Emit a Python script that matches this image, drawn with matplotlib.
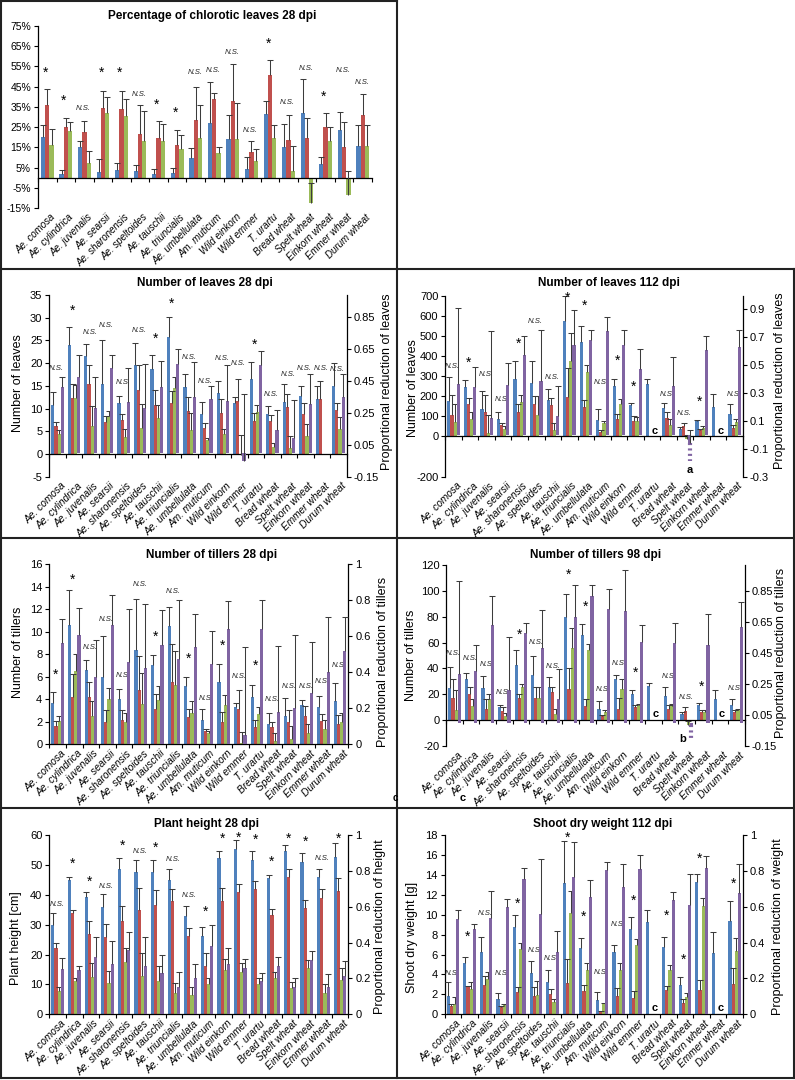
import numpy as np
import matplotlib
matplotlib.use('Agg')
import matplotlib.pyplot as plt
from matplotlib.lines import Line2D
from matplotlib.transforms import blended_transform_factory

plt.rcParams['font.family'] = ['Liberation Sans', 'DejaVu Sans']
nan = np.nan

categories = ['Ae. comosa', 'Ae. cylindrica', 'Ae. juvenalis', 'Ae. searsii', 'Ae. sharonensis',
              'Ae. speltoides', 'Ae. tauschii', 'Ae. triuncialis', 'Ae. umbellulata', 'Am. muticum',
              'Wild einkorn', 'Wild emmer', 'T. urartu', 'Bread wheat', 'Spelt wheat',
              'Einkorn wheat', 'Emmer wheat', 'Durum wheat']

# ---------------- Panel 1: Percentage of chlorotic leaves 28 dpi ----------------
chl_blue = [20, 2, 15, 3, 4, 3.5, 2, 2.5, 9.5, 27, 19, 4.5, 31.5, 15, 32, 7, 23.5, 15.5]
chl_blue_up = [26, 4, 18, 9, 7.5, 6.5, 4.5, 5, 14.5, 47.5, 31, 10, 38, 26.5, 49, 10, 32.5, 26]
chl_red = [36, 25, 22.5, 34.5, 34, 21.5, 19.5, 16, 28.5, 39, 38, 12.5, 51, 18.5, 19.5, 25, 15, 31]
chl_red_up = [44, 29.5, 28, 43, 43, 36, 28, 23.5, 45, 42, 56, 18, 58, 31, 29.5, 32, 27.5, 41.5]
chl_green = [16, 23, 7.5, 32, 30.5, 18, 18, 14, 19.5, 12, 19, 8, 19.5, 3.5, -12.5, 18, -8.5, 15.5]
chl_green_up = [24, 27.5, 13, 40, 39, 33, 26.5, 21, 36, 15, 37, 14, 26, 15.5, -2.7, 25, 3.5, 26]
chl_sig = ['*', '*', 'N.S.', '*', '*', 'N.S.', '*', '*', 'N.S.', 'N.S.', 'N.S.', 'N.S.', '*', 'N.S.',
           'N.S.', '*', 'N.S.', 'N.S.']
chl_sig_y = [52, 38, 34, 52, 52, 41, 36, 32, 52, 53, 62, 23.5, 66, 37, 54, 40, 53, 47]
chl_yticks = [-15, -5, 5, 15, 25, 35, 45, 55, 65, 75]

# ---------------- Panel 2: Number of leaves 28 dpi ----------------
l28_blue = [10.7, 24.0, 21.5, 15.3, 11.2, 19.6, 18.7, 25.7, 14.7, 8.8, 13.5, 11.2, 16.5, 8.7, 11.5, 12.8, 12.0, 15.0]
l28_blue_up = [13.6, 28.0, 24.3, 25.0, 12.7, 24.5, 21.9, 30.1, 17.5, 11.4, 16.0, 12.5, 20.2, 10.5, 15.3, 14.9, 14.9, 20.1]
l28_red = [6.2, 12.3, 15.3, 7.0, 7.5, 14.0, 10.8, 11.2, 9.5, 5.8, 9.0, 11.7, 7.3, 7.3, 10.4, 8.8, 12.2, 9.7]
l28_red_up = [7.0, 15.5, 19.7, 8.3, 8.8, 19.7, 14.0, 13.8, 12.5, 6.9, 12.0, 16.4, 9.0, 8.6, 13.1, 11.2, 16.1, 11.3]
l28_green = [4.5, 12.3, 6.2, 8.3, 3.8, 5.8, 8.0, 14.6, 5.3, 3.0, 4.5, -0.3, 9.3, 1.5, 1.3, 4.0, nan, 5.5]
l28_green_up = [5.2, 15.2, 10.5, 9.5, 5.5, 11.0, 10.8, 17.0, 9.0, 3.5, 5.5, 4.2, 10.7, 2.5, 4.0, 6.7, nan, 8.2]
l28_prop = [0.412, 0.478, 0.284, 0.535, 0.321, 0.278, 0.412, 0.557, 0.352, 0.335, 0.326, -0.050, 0.549, 0.144, 0.093, 0.304, nan, 0.349]
l28_prop_up = [0.478, 0.614, 0.478, 0.614, 0.535, 0.557, 0.577, 0.654, 0.569, 0.421, 0.549, 0.369, 0.637, 0.269, 0.329, 0.492, nan, 0.492]
l28_sig = ['N.S.', '*', 'N.S.', 'N.S.', 'N.S.', 'N.S.', '*', '*', 'N.S.', 'N.S.', 'N.S.', 'N.S.', '*', 'N.S.',
           'N.S.', 'N.S.', 'N.S.', 'N.S.']
l28_sig_y = [18.9, 31.6, 26.8, 28.3, 15.7, 27.1, 25.3, 33, 21.2, 16, 21.1, 19.9, 24, 13, 17.6, 18.75, 18.75, 18.7]

# ---------------- Panel 3: Number of leaves 112 dpi ----------------
l112_blue = [178, 247, 137, 87, 287, 265, 180, 572, 470, 83, 250, 155, 262, 143, 38, 77, 148, 113]
l112_blue_up = [295, 283, 225, 120, 377, 373, 238, 697, 548, 135, 285, 165, 288, 165, 48, 82, 210, 160]
l112_red = [108, 160, 120, 55, 120, 160, 155, 198, 145, 20, 85, 75, nan, 92, 50, 30, nan, 43]
l112_red_up = [205, 190, 205, 65, 160, 200, 190, 342, 180, 30, 110, 100, nan, 120, 65, 35, nan, 57]
l112_green = [70, 88, 15, 35, 170, 105, 30, 375, 323, 65, 162, 77, nan, 55, -15, 40, nan, 73]
l112_green_up = [160, 120, 105, 50, 205, 200, 65, 517, 355, 75, 188, 95, nan, 85, 5, 53, nan, 88]
l112_prop = [0.367, 0.341, 0.118, 0.360, 0.569, 0.386, 0.137, 0.641, 0.677, 0.745, 0.641, 0.471, nan, 0.353, -0.06, 0.605, nan, 0.626]
l112_prop_up = [0.907, 0.482, 0.746, 0.511, 0.706, 0.753, 0.349, 0.896, 0.749, 0.847, 0.752, 0.616, nan, 0.557, 0.035, 0.710, nan, 0.753]
l112_sig = ['N.S.', '*', 'N.S.', 'N.S.', '*', 'N.S.', 'N.S.', '*', '*', 'N.S.', '*', '*', '', 'N.S.',
            'N.S.', '*', '', 'N.S.']
l112_sig_y = [348, 368, 310, 182, 461, 572, 295, 688, 651, 270, 378, 249, nan, 207, 116, 171, nan, 207]
l112_missing = [12, 16]
l112_break = (14, -0.19, 'a')

# ---------------- Panel 4: Number of tillers 28 dpi ----------------
t28_blue = [3.7, 10.6, 6.6, 6.0, 4.0, 8.4, 7.0, 10.5, 5.2, 2.2, 5.5, 3.3, 4.2, 1.8, 2.5, 3.5, 3.3, 3.8]
t28_blue_up = [4.65, 13.7, 7.5, 9.6, 4.9, 12.9, 7.9, 12.2, 6.0, 3.1, 7.1, 3.7, 5.3, 2.8, 4.1, 3.9, 4.3, 5.4]
t28_red = [1.6, 4.2, 4.2, 2.0, 2.15, 4.8, 3.15, 5.5, 2.4, 1.2, 2.0, 3.15, 1.5, 1.5, 2.0, 2.5, 2.1, 1.8]
t28_red_up = [2.1, 6.2, 5.5, 3.0, 3.0, 7.8, 4.5, 8.9, 3.1, 1.4, 2.9, 4.8, 2.2, 2.0, 3.0, 3.4, 2.7, 2.6]
t28_green = [2.1, 6.5, 2.5, 4.0, 2.0, 3.6, 3.9, 5.3, 2.8, 1.0, 3.5, 0.1, 2.7, 0.3, 0.5, 1.0, 1.4, 2.0]
t28_green_up = [2.5, 8.0, 3.8, 5.0, 2.8, 6.3, 5.2, 8.3, 3.8, 1.2, 4.4, 1.1, 3.3, 1.0, 1.6, 1.8, 2.2, 2.8]
t28_prop = [0.5625, 0.606, 0.375, 0.662, 0.456, 0.425, 0.55, 0.475, 0.537, 0.444, 0.637, 0.05, 0.637, 0.181, 0.2, 0.287, 0.4, 0.52]
t28_prop_up = [0.694, 0.756, 0.58, 0.83, 0.75, 0.78, 0.744, 0.80, 0.725, 0.63, 0.794, 0.54, 0.80, 0.544, 0.606, 0.569, 0.706, 0.706]
t28_sig = ['*', '*', 'N.S.', 'N.S.', 'N.S.', 'N.S.', '*', 'N.S.', '*', 'N.S.', '*', 'N.S.', '*', 'N.S.',
           'N.S.', 'N.S.', 'N.S.', 'N.S.']
t28_sig_y = [6.15, 14.6, 8.6, 11.1, 6.1, 14.2, 9.5, 13.6, 7.6, 4.1, 8.7, 6.0, 7.0, 4.0, 5.1, 5.1, 5.6, 7.0]

# ---------------- Panel 5: Number of tillers 98 dpi ----------------
t98_blue = [25, 31.5, 25, 10, 43, 35, 26, 79.5, 65.5, 9, 32, 20, 26.5, 19, 5, 12, 16, 12]
t98_blue_up = [41, 36.5, 34, 12, 54, 50, 33, 97.5, 74.5, 15, 35, 23.5, 29, 26, 6, 13, 23, 16.5]
t98_red = [17, 20, 9, 7, 17.5, 17.5, 22, 24, 11, 3, 9, 10, nan, 9, 7, 6.5, nan, 6]
t98_red_up = [32, 26, 16, 10, 20.5, 26, 26, 40.5, 16, 4, 17, 11.5, nan, 12, 10, 8, nan, 8]
t98_green = [8, 11, 16.5, 3, 26, 17.5, 5, 55.5, 54.5, 6.5, 24, 11.5, nan, 11, -4, 6.5, nan, 7.5]
t98_green_up = [23, 16, 20.5, 5.5, 28, 26, 9, 71.5, 59, 7.5, 32, 12.5, nan, 12.5, -1, 7.5, nan, 9]
t98_prop = [0.314, 0.335, 0.626, 0.21, 0.576, 0.481, 0.152, 0.681, 0.818, 0.731, 0.718, 0.518, nan, 0.514, -0.015, 0.501, nan, 0.614]
t98_prop_up = [0.910, 0.501, 0.818, 0.551, 0.643, 0.726, 0.343, 0.885, 0.885, 0.86, 0.985, 0.626, nan, 0.643, nan, 0.701, nan, 0.78]
t98_sig = ['N.S.', 'N.S.', 'N.S.', 'N.S.', '*', 'N.S.', 'N.S.', '*', '*', 'N.S.', 'N.S.', '*', '', 'N.S.',
           'N.S.', '*', '', 'N.S.']
t98_sig_y = [51.8, 48, 42.8, 21.4, 66, 60.3, 41.5, 112.4, 87.9, 23.5, 43.6, 36.9, nan, 33.8, 17.8, 26, nan, 24.7]
t98_missing = [12, 16]
t98_break = (14, -0.105, 'b')

# ---------------- Panel 6: Plant height 28 dpi ----------------
ph_blue = [30, 44.8, 39.2, 36, 48.7, 47.5, 47.7, 44.8, 33, 26.2, 52.2, 55.2, 51.6, 45.5, 54.6, 51, 45.9, 52.7]
ph_blue_up = [34, 46, 40.8, 40.2, 52.2, 51.8, 51.5, 48.7, 36.4, 29.3, 54.8, 58.3, 54.6, 46.5, 56.8, 53.9, 48.5, 57.3]
ph_red = [22.3, 33.8, 26.8, 25.7, 31.3, 34.8, 36.6, 38, 26.3, 16, 37.8, 41, 42, 33.3, 46, 35.6, 39, 41.3]
ph_red_up = [24, 35, 31.2, 30.1, 36.2, 42.3, 41.5, 41.8, 29, 20.5, 42.2, 43.5, 44.5, 35.2, 48.5, 38.2, 42, 45.5]
ph_green = [7.7, 11, 12.5, 10.5, 17.5, 12.8, 11.2, 7, 6.5, 10, 14.7, 14.3, 10, 12.3, 8.7, 15.5, 7, 11.4]
ph_green_up = [9.3, 12, 17, 14.6, 22.2, 20.4, 16.2, 10.6, 9.3, 12.2, 18.5, 17, 12, 14, 10.9, 18.1, 10.3, 15.6]
ph_prop = [0.253, 0.245, 0.317, 0.283, 0.358, 0.267, 0.233, 0.15, 0.2, 0.38, 0.28, 0.26, 0.187, 0.272, 0.155, 0.303, 0.15, 0.215]
ph_prop_up = [0.312, 0.272, 0.433, 0.408, 0.458, 0.43, 0.333, 0.237, 0.278, 0.5, 0.367, 0.308, 0.233, 0.317, 0.2, 0.352, 0.222, 0.295]
ph_sig = ['N.S.', '*', '*', 'N.S.', '*', 'N.S.', '*', 'N.S.', 'N.S.', '*', '*', '*', '*', '*', '*', '*', 'N.S.', '*']
ph_sig_y = [36.9, 50.3, 44.4, 42.9, 56.3, 54.4, 55.7, 51.8, 39.9, 34.3, 58.9, 59.1, 58.3, 51.1, 58.9, 57.7, 52.2, 58.9]

# ---------------- Panel 7: Shoot dry weight 112 dpi ----------------
sw_blue = [1.8, 5.2, 6.3, 1.5, 8.8, 4.1, 3.2, 13.2, 6.7, 1.4, 6.3, 8.6, 9.3, 6.8, 2.9, 13.3, 6.2, 9.4]
sw_blue_up = [3.2, 5.8, 7.8, 2.1, 10.0, 5.4, 4.4, 17.4, 7.7, 2.2, 7.0, 9.8, 10.5, 7.8, 3.7, 14.1, 8.3, 11.4]
sw_red = [0.85, 2.8, 2.9, 0.7, 2.2, 1.8, 2.0, 3.1, 2.3, 0.3, 1.8, 1.6, nan, 2.4, 1.1, 2.4, nan, 3.0]
sw_red_up = [1.05, 2.8, 3.8, 0.8, 2.7, 2.7, 2.5, 5.6, 2.9, 0.35, 2.6, 2.3, nan, 2.8, 1.5, 3.4, nan, 4.6]
sw_green = [1.0, 2.5, 3.5, 0.9, 6.6, 1.9, 1.2, 10.2, 4.4, 1.1, 4.4, 7.0, nan, 4.4, 1.7, 10.9, nan, 6.4]
sw_green_up = [1.7, 3.2, 4.2, 1.0, 7.2, 3.3, 1.5, 12.4, 5.2, 1.1, 5.1, 7.6, nan, 4.9, 2.1, 11.7, nan, 7.7]
sw_prop = [0.533, 0.478, 0.539, 0.6, 0.756, 0.561, 0.35, 0.767, 0.656, 0.806, 0.711, 0.811, nan, 0.639, 0.611, 0.817, nan, 0.678]
sw_prop_up = [0.583, 0.506, 0.689, 0.644, 0.817, 0.867, 0.467, 0.961, 0.75, 0.85, 0.839, 0.889, nan, 0.683, 0.783, 0.883, nan, 0.839]
sw_sig = ['N.S.', '*', 'N.S.', 'N.S.', '*', 'N.S.', 'N.S.', '*', '*', 'N.S.', 'N.S.', '*', '', '*', '*', '*', '', '*']
sw_sig_y = [4.1, 7.8, 10.1, 4.1, 11.1, 6.4, 5.6, 17.7, 9.8, 4.2, 9.0, 11.4, nan, 9.9, 5.5, 15.6, nan, 13.1]
sw_missing = [12, 16]

BLUE, RED, GREEN, PURPLE = '#4F81BD', '#C0504D', '#9BBB59', '#8064A2'
ERR = '#3c3c3c'
W, H = 795, 1080
fig = plt.figure(figsize=(W / 100, H / 100), dpi=100)
fig.patch.set_facecolor('white')


def px_rect(l, r, t, b):
    return [l / W, 1 - b / H, (r - l) / W, (b - t) / H]


def draw_series(ax, x, vals, ups, color, width):
    v = np.asarray(vals, float)
    u = np.asarray(ups, float)
    ax.bar(x, np.nan_to_num(v), width, color=color, edgecolor='none', zorder=2)
    m = ~np.isnan(v) & ~np.isnan(u)
    ax.vlines(x[m], v[m], u[m], color=ERR, lw=0.75, zorder=3)
    ax.plot(x[m], u[m], ls='none', marker='_', ms=4.5, mew=0.75, color=ERR, zorder=3)


def fmt(v):
    return ('%g' % round(v, 2))


def panel(rect, title, title_xy, left, ylim, yticks, ytick_labels, sig, sig_y,
          right=None, rylim=None, rticks=None, ylabel=None, ylabel_xy=None,
          rylabel=None, rylabel_xy=None, width=0.19, lab_fs=7.3, tick_fs=8):
    ax = fig.add_axes(px_rect(*rect))
    n = len(categories)
    x = np.arange(n)
    nb = len(left) + (1 if right else 0)
    offs = (np.arange(nb) - (nb - 1) / 2) * width
    for k, (v, u, c) in enumerate(left):
        draw_series(ax, x + offs[k], v, u, c, width)
    ax.set_xlim(-0.5, n - 0.5)
    ax.set_ylim(*ylim)
    ax.set_yticks(yticks)
    ax.set_yticklabels(ytick_labels, fontsize=tick_fs)
    for s in ['top', 'right']:
        ax.spines[s].set_visible(False)
    ax.spines['bottom'].set_position(('data', 0))
    ax.spines['left'].set_linewidth(0.9)
    ax.spines['bottom'].set_linewidth(0.9)
    ax.set_xticks(np.arange(-0.5, n, 1))
    ax.set_xticklabels([])
    ax.tick_params(axis='x', length=3, width=0.8, direction='out')
    ax.tick_params(axis='y', length=3, width=0.8, direction='out', pad=2)
    ax.patch.set_alpha(0)
    tr = blended_transform_factory(ax.transData, ax.transAxes)
    for i, c in enumerate(categories):
        ax.annotate(c, xy=(i, 0), xycoords=tr, xytext=(2, -3), textcoords='offset points',
                    rotation=45, ha='right', va='top', rotation_mode='anchor',
                    fontsize=lab_fs, style='italic')
    ax2 = None
    if right:
        ax2 = ax.twinx()
        v, u, c = right
        draw_series(ax2, x + offs[-1], v, u, c, width)
        ax2.set_ylim(*rylim)
        ax2.set_yticks(rticks)
        ax2.set_yticklabels([fmt(t) for t in rticks], fontsize=tick_fs)
        for s in ['top', 'bottom', 'left']:
            ax2.spines[s].set_visible(False)
        ax2.spines['right'].set_linewidth(0.9)
        ax2.tick_params(axis='y', length=3, width=0.8, direction='out', pad=2)
    for i, (s, yv) in enumerate(zip(sig, sig_y)):
        if not s:
            continue
        if s == '*':
            ax.text(i - 0.1, yv, '*', ha='center', va='center', fontsize=10, zorder=5)
        else:
            ax.text(i - 0.05, yv, s, ha='center', va='center', fontsize=5.6, style='italic',
                    color='#222222', zorder=5)
    fig.text(title_xy[0] / W, 1 - title_xy[1] / H, title, ha='center', va='center',
             fontsize=8.5, fontweight='bold')
    if ylabel:
        fig.text(ylabel_xy[0] / W, 1 - ylabel_xy[1] / H, ylabel, rotation=90,
                 ha='center', va='center', fontsize=9)
    if rylabel:
        fig.text(rylabel_xy[0] / W, 1 - rylabel_xy[1] / H, rylabel, rotation=90,
                 ha='center', va='center', fontsize=9)
    return ax, ax2, x, offs


# Panel 1
panel((38, 372, 26, 208), 'Percentage of chlorotic leaves 28 dpi', (212, 16),
      [(chl_blue, chl_blue_up, BLUE), (chl_red, chl_red_up, RED), (chl_green, chl_green_up, GREEN)],
      (-15, 75), chl_yticks, ['%d%%' % t for t in chl_yticks], chl_sig, chl_sig_y,
      width=0.23, lab_fs=7, tick_fs=7.5)

# Panel 2
l28_yt = list(range(-5, 36, 5))
panel((49.3, 346.7, 295, 476.7), 'Number of leaves 28 dpi', (205, 283),
      [(l28_blue, l28_blue_up, BLUE), (l28_red, l28_red_up, RED), (l28_green, l28_green_up, GREEN)],
      (-5, 35), l28_yt, [str(t) for t in l28_yt], l28_sig, l28_sig_y,
      right=(l28_prop, l28_prop_up, PURPLE), rylim=(-0.15, 0.99),
      rticks=list(np.round(np.arange(-0.15, 0.9, 0.2), 2)),
      ylabel='Number of leaves', ylabel_xy=(18, 383),
      rylabel='Proportional reduction of leaves', rylabel_xy=(387, 382))

# Panel 3
l112_yt = [-200, 0, 100, 200, 300, 400, 500, 600, 700]
ax, ax2, x, offs = panel((445.3, 743, 295.7, 476.7), 'Number of leaves 112 dpi', (609, 283),
      [(l112_blue, l112_blue_up, BLUE), (l112_red, l112_red_up, RED), (l112_green, l112_green_up, GREEN)],
      (-200, 700), l112_yt, [str(t) for t in l112_yt], l112_sig, l112_sig_y,
      right=(l112_prop, l112_prop_up, PURPLE), rylim=(-0.3, 0.996),
      rticks=list(np.round(np.arange(-0.3, 1.0, 0.2), 2)),
      ylabel='Number of leaves', ylabel_xy=(413, 388),
      rylabel='Proportional reduction of leaves', rylabel_xy=(780, 381))
for i in l112_missing:
    ax.text(i + 0.15, 28, 'c', ha='center', va='center', fontsize=8, fontweight='bold')
bi, bend, blab = l112_break
ax2.vlines(bi + offs[-1], l112_prop[bi], bend, colors=PURPLE, lw=3, linestyles=(0, (0.5, 0.8)))
ax2.text(bi + offs[-1], bend - 0.06, blab, ha='center', va='center', fontsize=8, fontweight='bold')

# Panel 4
t28_yt = list(range(0, 17, 2))
panel((49.3, 348.3, 564, 744.3), 'Number of tillers 28 dpi', (212, 555),
      [(t28_blue, t28_blue_up, BLUE), (t28_red, t28_red_up, RED), (t28_green, t28_green_up, GREEN)],
      (0, 16), t28_yt, [str(t) for t in t28_yt], t28_sig, t28_sig_y,
      right=(t28_prop, t28_prop_up, PURPLE), rylim=(0, 1),
      rticks=[0, 0.2, 0.4, 0.6, 0.8, 1.0],
      ylabel='Number of tillers', ylabel_xy=(18, 652),
      rylabel='Proportional reduction of tillers', rylabel_xy=(383, 662))

# Panel 5
t98_yt = list(range(-20, 121, 20))
ax, ax2, x, offs = panel((446.3, 744.7, 565, 746), 'Number of tillers 98 dpi', (596, 555),
      [(t98_blue, t98_blue_up, BLUE), (t98_red, t98_red_up, RED), (t98_green, t98_green_up, GREEN)],
      (-20, 120), t98_yt, [str(t) for t in t98_yt], t98_sig, t98_sig_y,
      right=(t98_prop, t98_prop_up, PURPLE), rylim=(-0.15, 1.015),
      rticks=list(np.round(np.arange(-0.15, 0.9, 0.2), 2)),
      ylabel='Number of tillers', ylabel_xy=(411, 655),
      rylabel='Proportional reduction of tillers', rylabel_xy=(781, 653))
for i in t98_missing:
    ax.text(i + 0.12, 4.6, 'c', ha='center', va='center', fontsize=8, fontweight='bold')
bi, bend, blab = t98_break
ax2.vlines(bi + offs[-1], t98_prop[bi], bend, colors=PURPLE, lw=3, linestyles=(0, (0.5, 0.8)))
ax2.text(bi - 0.22, bend, blab, ha='center', va='center', fontsize=8, fontweight='bold')

# Panel 6
ph_yt = list(range(0, 61, 10))
panel((49.3, 348.3, 835, 1014.3), 'Plant height 28 dpi', (207, 824),
      [(ph_blue, ph_blue_up, BLUE), (ph_red, ph_red_up, RED), (ph_green, ph_green_up, GREEN)],
      (0, 60), ph_yt, [str(t) for t in ph_yt], ph_sig, ph_sig_y,
      right=(ph_prop, ph_prop_up, PURPLE), rylim=(0, 1),
      rticks=[0, 0.2, 0.4, 0.6, 0.8, 1.0],
      ylabel='Plant height [cm]', ylabel_xy=(16, 938),
      rylabel='Proportional reduction of height', rylabel_xy=(380, 927))

# Panel 7
sw_yt = list(range(0, 19, 2))
ax, ax2, x, offs = panel((444.7, 743, 835, 1014.3), 'Shoot dry weight 112 dpi', (603, 824),
      [(sw_blue, sw_blue_up, BLUE), (sw_red, sw_red_up, RED), (sw_green, sw_green_up, GREEN)],
      (0, 18), sw_yt, [str(t) for t in sw_yt], sw_sig, sw_sig_y,
      right=(sw_prop, sw_prop_up, PURPLE), rylim=(0, 1),
      rticks=[0, 0.2, 0.4, 0.6, 0.8, 1.0],
      ylabel='Shoot dry weight [g]', ylabel_xy=(412, 937),
      rylabel='Proportional reduction of weight', rylabel_xy=(778, 927))
for i in sw_missing:
    ax.text(i + 0.15, 0.66, 'c', ha='center', va='center', fontsize=8, fontweight='bold')

# stray letters
fig.text(395 / W, 1 - 798 / H, 'c', ha='center', va='center', fontsize=7, fontweight='bold')
fig.text(463 / W, 1 - 798 / H, 'c', ha='center', va='center', fontsize=8, fontweight='bold')


def fline(x0, y0, x1, y1):
    fig.add_artist(Line2D([x0 / W, x1 / W], [1 - y0 / H, 1 - y1 / H], color='#222222', lw=1.5))


fline(1, 1, 397, 1)
fline(1, 1, 1, 1078)
fline(397, 1, 397, 1078)
fline(1, 269, 794, 269)
fline(1, 538, 794, 538)
fline(1, 808, 794, 808)
fline(1, 1078, 794, 1078)
fline(794, 269, 794, 1078)

fig.savefig('out.png', dpi=100, facecolor='white')
